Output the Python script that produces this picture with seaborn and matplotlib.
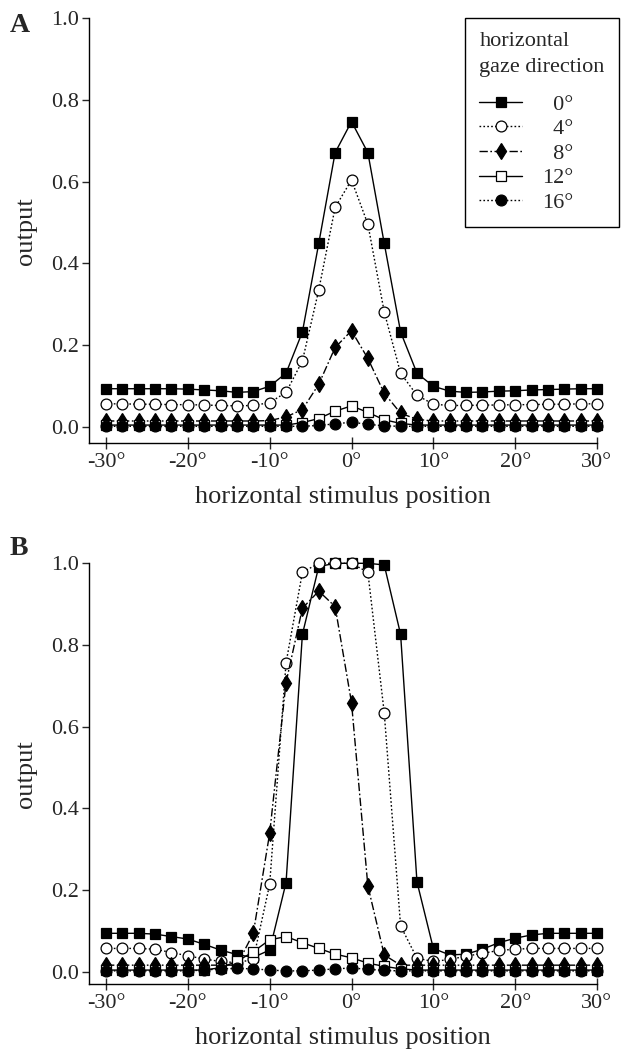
import matplotlib
matplotlib.use("Agg")
import matplotlib.pyplot as plt
import seaborn as sns
from matplotlib.lines import Line2D

# horizontal stimulus positions (deg)
positions = [-30, -28, -26, -24, -22, -20, -18, -16, -14, -12, -10, -8, -6, -4, -2,
             0, 2, 4, 6, 8, 10, 12, 14, 16, 18, 20, 22, 24, 26, 28, 30]

gaze_labels = ["0°", "4°", "8°", "12°", "16°"]

# panel A outputs, one list per gaze direction
a_gaze0 = [0.093, 0.093, 0.093, 0.093, 0.093, 0.092, 0.090, 0.088, 0.084, 0.086, 0.099,
           0.131, 0.232, 0.449, 0.671, 0.747, 0.671, 0.449, 0.232, 0.131, 0.099,
           0.087, 0.084, 0.085, 0.087, 0.088, 0.090, 0.091, 0.092, 0.093, 0.093]
a_gaze4 = [0.056, 0.056, 0.055, 0.055, 0.054, 0.054, 0.053, 0.052, 0.051, 0.052, 0.059,
           0.084, 0.161, 0.335, 0.537, 0.604, 0.496, 0.281, 0.131, 0.077, 0.055,
           0.052, 0.052, 0.053, 0.053, 0.054, 0.054, 0.055, 0.055, 0.056, 0.056]
a_gaze8 = [0.014, 0.014, 0.014, 0.014, 0.014, 0.014, 0.014, 0.014, 0.014, 0.014, 0.015,
           0.024, 0.042, 0.104, 0.194, 0.235, 0.167, 0.082, 0.033, 0.018, 0.014,
           0.014, 0.014, 0.014, 0.014, 0.014, 0.014, 0.014, 0.014, 0.014, 0.014]
a_gaze12 = [0.004, 0.004, 0.004, 0.004, 0.004, 0.004, 0.004, 0.004, 0.004, 0.004, 0.004,
            0.004, 0.010, 0.020, 0.038, 0.051, 0.035, 0.017, 0.008, 0.004, 0.004,
            0.004, 0.004, 0.004, 0.004, 0.004, 0.004, 0.004, 0.004, 0.004, 0.004]
a_gaze16 = [0.001, 0.001, 0.001, 0.001, 0.001, 0.001, 0.001, 0.001, 0.001, 0.001, 0.001,
            0.001, 0.001, 0.003, 0.007, 0.011, 0.006, 0.002, 0.001, 0.001, 0.001,
            0.001, 0.001, 0.001, 0.001, 0.001, 0.001, 0.001, 0.001, 0.001, 0.001]

# panel B outputs
b_gaze0 = [0.094, 0.094, 0.094, 0.092, 0.086, 0.080, 0.067, 0.053, 0.042, 0.035, 0.053,
           0.218, 0.826, 0.992, 1.000, 1.000, 1.000, 0.996, 0.826, 0.220, 0.057,
           0.041, 0.043, 0.055, 0.071, 0.082, 0.090, 0.094, 0.094, 0.094, 0.094]
b_gaze4 = [0.057, 0.057, 0.057, 0.055, 0.047, 0.039, 0.031, 0.025, 0.022, 0.030, 0.214,
           0.756, 0.978, 1.000, 1.000, 1.000, 0.978, 0.634, 0.112, 0.033, 0.025,
           0.030, 0.038, 0.045, 0.052, 0.055, 0.057, 0.057, 0.057, 0.057, 0.057]
b_gaze8 = [0.016, 0.016, 0.016, 0.016, 0.016, 0.016, 0.016, 0.016, 0.016, 0.094, 0.339,
           0.708, 0.890, 0.932, 0.894, 0.659, 0.210, 0.041, 0.016, 0.016, 0.016,
           0.016, 0.016, 0.016, 0.016, 0.016, 0.016, 0.016, 0.016, 0.016, 0.016]
b_gaze12 = [0.004, 0.004, 0.004, 0.004, 0.004, 0.004, 0.004, 0.010, 0.025, 0.049, 0.078,
            0.086, 0.071, 0.057, 0.043, 0.034, 0.021, 0.013, 0.007, 0.004, 0.004,
            0.004, 0.004, 0.004, 0.004, 0.004, 0.004, 0.004, 0.004, 0.004, 0.004]
b_gaze16 = [0.002, 0.002, 0.002, 0.002, 0.002, 0.002, 0.004, 0.007, 0.008, 0.007, 0.004,
            0.002, 0.002, 0.004, 0.007, 0.009, 0.006, 0.003, 0.002, 0.002, 0.002,
            0.002, 0.002, 0.002, 0.002, 0.002, 0.002, 0.002, 0.002, 0.002, 0.002]

x_ticks = [-30, -20, -10, 0, 10, 20, 30]
x_tick_labels = ["-30°", "-20°", "-10°", "0°", "10°", "20°", "30°"]
y_ticks = [0.0, 0.2, 0.4, 0.6, 0.8, 1.0]
y_tick_labels = ["0.0", "0.2", "0.4", "0.6", "0.8", "1.0"]

sns.set_style("ticks")
plt.rcParams["font.family"] = ["Liberation Serif", "DejaVu Serif"]

# line style / marker for each gaze direction
styles = [
    dict(linestyle="-", marker="s", markersize=7.2, markerfacecolor="black"),
    dict(linestyle=(0, (1.2, 1.6)), marker="o", markersize=7.8, markerfacecolor="white"),
    dict(linestyle=(0, (6, 1.8, 1.2, 1.8)), marker="d", markersize=8.0, markerfacecolor="black"),
    dict(linestyle="-", marker="s", markersize=7.0, markerfacecolor="white"),
    dict(linestyle=(0, (1.2, 1.6)), marker="o", markersize=7.8, markerfacecolor="black"),
]

W, H = 624, 1053
fig = plt.figure(figsize=(W / 100, H / 100), dpi=100)

px_per_deg = (597 - 106) / 60.0
x_left = -30 - (106 - 88.7) / px_per_deg


def panel(top_px, zero_px, bottom_px, series, letter, letter_base):
    ax = fig.add_axes([88.7 / W, 1 - bottom_px / H, (597 - 88.7) / W, (bottom_px - top_px) / H])
    for vals, st, lab in zip(series, styles, gaze_labels):
        sns.lineplot(x=positions, y=vals, ax=ax, color="black", linewidth=1.0,
                     markeredgecolor="black", markeredgewidth=0.9,
                     clip_on=False, label=lab, legend=False, zorder=3, **st)
    ax.set_xlim(x_left, 30)
    ax.set_ylim(-(bottom_px - zero_px) / (zero_px - top_px), 1.0)
    ax.set_xticks(x_ticks, labels=x_tick_labels)
    ax.set_yticks(y_ticks, labels=y_tick_labels)
    ax.tick_params(axis="x", direction="inout", length=8, width=1.0, labelsize=16, pad=3)
    ax.tick_params(axis="y", direction="out", length=5, width=1.0, labelsize=16, pad=2)
    for s in ("left", "bottom"):
        ax.spines[s].set_linewidth(1.0)
        ax.spines[s].set_color("black")
    sns.despine(ax=ax)
    ax.set_xlabel("horizontal stimulus position", fontsize=19, labelpad=10)
    ax.set_ylabel("output", fontsize=19, labelpad=10)
    fig.text(10 / W, 1 - letter_base / H, letter, fontsize=20, fontweight="bold",
             va="baseline", ha="left")
    return ax


ax_a = panel(18.3, 426.7, 443.3, [a_gaze0, a_gaze4, a_gaze8, a_gaze12, a_gaze16], "A", 32)
ax_b = panel(563.3, 971.7, 984.0, [b_gaze0, b_gaze4, b_gaze8, b_gaze12, b_gaze16], "B", 555)

# legend for panel A
handles = [Line2D([], [], color="black", linewidth=1.0, markeredgecolor="black",
                  markeredgewidth=0.9, **st) for st in styles]
leg_labels = ["\u2007" + g if len(g) == 2 else g for g in gaze_labels]
leg = ax_a.legend(handles, leg_labels, title="horizontal\ngaze direction",
                  loc="upper left", bbox_to_anchor=(465 / W, 1 - 18 / H),
                  bbox_transform=fig.transFigure, borderaxespad=0,
                  fontsize=16, title_fontsize=16, alignment="left",
                  frameon=True, fancybox=False, edgecolor="black", framealpha=1,
                  borderpad=0.65, handlelength=1.9, handletextpad=0.9,
                  labelspacing=0.18)
leg.get_frame().set_linewidth(1.0)
leg.get_title().set_linespacing(1.5)
# extra gap between the title block and the entries
leg._legend_box.sep = 12

fig.savefig("out.png", dpi=100)
